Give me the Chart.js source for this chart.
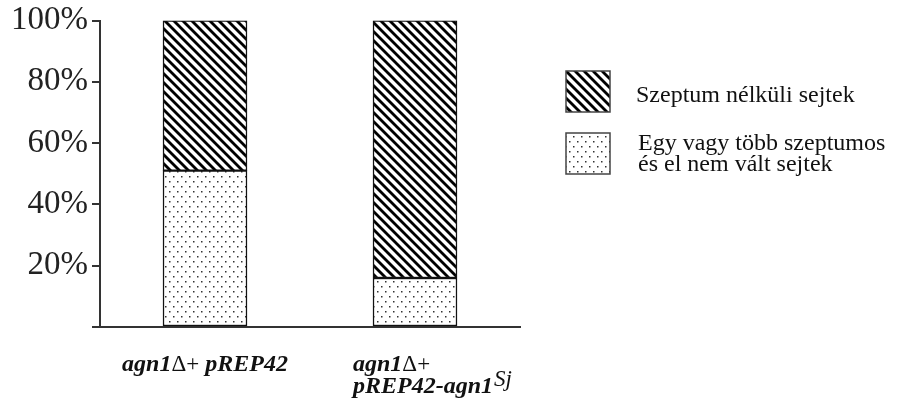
<!DOCTYPE html>
<html>
<head>
<meta charset="utf-8">
<script src="https://cdn.jsdelivr.net/npm/chart.js@4"></script>
<style>
  html, body { margin: 0; padding: 0; background: #fff; }
  #wrap { width: 906px; height: 405px; position: relative; }
</style>
</head>
<body>
<div id="wrap"><canvas id="chart"></canvas></div>
<script>
// Strain labels: each entry lists the lines of one label; the Δ+ part is set upright,
// and the last line may carry a superscript
const categoryLines = [[['agn1', '\u0394+', ' pREP42']], [['agn1', '\u0394+'], ['pREP42-agn1']]];
const categorySup = ['', 'Sj'];
const categories = ['agn1\u0394+ pREP42', 'agn1\u0394+ pREP42-agn1Sj'];

// Share of cells (%) per strain
const noSeptumLabel = 'Szeptum nélküli sejtek';
const noSeptum = [49, 84];
const septatedLabel = ['Egy vagy több szeptumos', 'és el nem vált sejtek'];
const septated = [51, 16];

const yTicks = [0, 20, 40, 60, 80, 100];

// Fill patterns
function hatchPattern() {
  const p = 9;
  const c = document.createElement('canvas');
  c.width = p; c.height = p;
  const g = c.getContext('2d');
  g.fillStyle = '#fff';
  g.fillRect(0, 0, p, p);
  g.strokeStyle = '#000';
  g.lineWidth = 2.8;
  g.lineCap = 'square';
  for (const k of [-p, 0, p]) {
    g.beginPath();
    g.moveTo(k - 1, -1);
    g.lineTo(k + p + 1, p + 1);
    g.stroke();
  }
  return g.createPattern(c, 'repeat');
}
function dotPattern() {
  const c = document.createElement('canvas');
  c.width = 8; c.height = 10;
  const g = c.getContext('2d');
  g.fillStyle = '#fff';
  g.fillRect(0, 0, 8, 10);
  g.fillStyle = '#333';
  g.fillRect(1, 1, 1.5, 1.5);
  g.fillRect(5, 6, 1.5, 1.5);
  return g.createPattern(c, 'repeat');
}
const hatch = hatchPattern();
const dots = dotPattern();

const serif = '"Liberation Serif", "Times New Roman", serif';

// Draws a line made of pieces; pieces at odd positions use the upright font
function drawPieces(ctx, pieces, x, y, fonts) {
  let cx = x;
  pieces.forEach((t, k) => {
    ctx.font = fonts[k % 2];
    ctx.fillText(t, cx, y);
    cx += ctx.measureText(t).width;
  });
  return cx;
}
function piecesWidth(ctx, pieces, fonts) {
  return pieces.reduce((w, t, k) => { ctx.font = fonts[k % 2]; return w + ctx.measureText(t).width; }, 0);
}

// Legend on the right and multi-line category labels under the bars
const annotate = {
  id: 'annotate',
  afterDraw(chart) {
    const ctx = chart.ctx;
    const x = chart.scales.x;
    ctx.save();
    ctx.fillStyle = '#111';
    ctx.textBaseline = 'alphabetic';
    ctx.textAlign = 'left';
    const fonts = ['italic bold 24px ' + serif, '23px ' + serif];
    const fontSup = 'italic 23px ' + serif;
    categoryLines.forEach((lines, i) => {
      const cx = x.getPixelForValue(i);
      if (lines.length === 1) {
        const w = piecesWidth(ctx, lines[0], fonts);
        drawPieces(ctx, lines[0], cx - w / 2, 371, fonts);
      } else {
        const left = cx - 62;
        lines.forEach((ln, j) => {
          const end = drawPieces(ctx, ln, left, 371 + j * 22, fonts);
          if (j === lines.length - 1 && categorySup[i]) {
            ctx.font = fontSup;
            ctx.fillText(categorySup[i], end + 1, 386);
          }
        });
      }
    });

    // legend
    const items = [
      { fill: hatch, text: [noSeptumLabel], y: 71 },
      { fill: dots, text: septatedLabel, y: 133 }
    ];
    ctx.font = '24px ' + serif;
    items.forEach(it => {
      ctx.fillStyle = it.fill;
      ctx.fillRect(566, it.y, 44, 41);
      ctx.strokeStyle = '#444';
      ctx.lineWidth = 1.5;
      ctx.strokeRect(566, it.y, 44, 41);
      ctx.fillStyle = '#111';
      if (it.text.length === 1) {
        ctx.fillText(it.text[0], 636, it.y + 31);
      } else {
        it.text.forEach((t, j) => ctx.fillText(t, 638, it.y + 17 + j * 21));
      }
    });
    ctx.restore();
  }
};

new Chart(document.getElementById('chart'), {
  type: 'bar',
  data: {
    labels: categories,
    datasets: [
      { label: septatedLabel.join(' '), data: septated, backgroundColor: dots,
        borderColor: '#111', borderWidth: 1.5, borderSkipped: false, barThickness: 84 },
      { label: noSeptumLabel, data: noSeptum, backgroundColor: hatch,
        borderColor: '#111', borderWidth: 1.5, borderSkipped: false, barThickness: 84 }
    ]
  },
  options: {
    responsive: true,
    maintainAspectRatio: false,
    animation: false,
    events: [],
    layout: { padding: { top: 20, right: 386, left: 0, bottom: 0 } },
    plugins: { legend: { display: false }, tooltip: { enabled: false } },
    scales: {
      x: {
        stacked: true,
        grid: { display: false, drawTicks: false },
        border: { display: true, color: '#333', width: 2 },
        ticks: { display: false },
        afterFit(s) { s.height = 78; }
      },
      y: {
        stacked: true,
        min: 0, max: 100,
        afterBuildTicks(s) { s.ticks = yTicks.map(v => ({ value: v })); },
        grid: { drawOnChartArea: false, drawTicks: true, tickLength: 8, color: '#333', lineWidth: 2 },
        border: { display: true, color: '#333', width: 2 },
        ticks: {
          padding: 4,
          color: '#222',
          font: { family: serif, size: 33, lineHeight: 1 },
          callback: v => (v === 0 ? '' : v + '%')
        },
        afterFit(s) { s.width = 100; }
      }
    }
  },
  plugins: [annotate]
});
</script>
</body>
</html>
